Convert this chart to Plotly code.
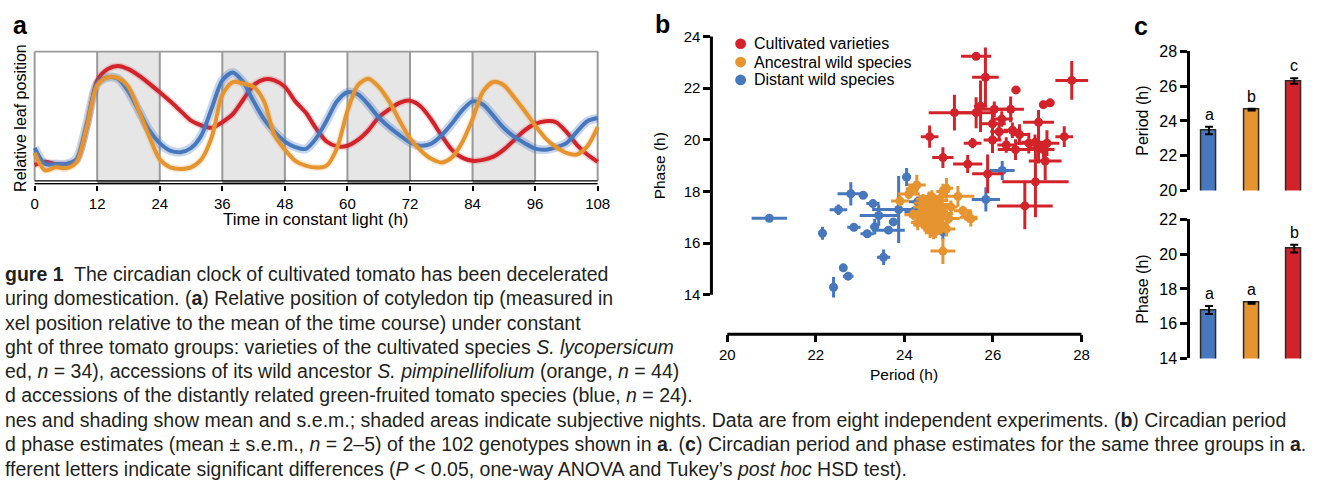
import plotly.graph_objects as go

# ---------------- data ----------------
# Panel a: relative leaf position (arbitrary units) every 2 h
time_h = list(range(0, 109, 2))
cultivated_pos = [17.3, 20.7, 18.3, 18.3, 21.7, 56.7, 105, 116.7, 120, 116.7,
                  110, 101.7, 92.7, 83.3, 73.3, 63.3, 58.3, 56, 61.7, 70,
                  85, 100, 106, 105, 98.3, 83.3, 71.7, 55, 41.7, 36.7,
                  37.3, 43.3, 53.3, 66.7, 75, 81.7, 84, 78.3, 65, 48.3,
                  33.3, 25, 21.7, 22.7, 26, 33.3, 43.3, 53.3, 60, 62.7,
                  61.7, 51.7, 38.3, 28.3, 20.7]
distant_pos = [35, 18.3, 18.3, 18.3, 23.3, 60, 101.7, 108.3, 106.7, 93.3,
               73.3, 53.3, 40, 32.3, 30.7, 35, 48.3, 76.7, 105, 113.3,
               103.3, 83.3, 65, 51.7, 41.7, 36, 34, 45, 63.3, 83.3,
               92.7, 90.7, 80, 66.7, 56.7, 48.3, 40.7, 37.3, 39.3, 47.7,
               60, 74, 83.3, 80, 68.3, 55.7, 46.7, 40, 34.3, 33.3,
               35.7, 40, 51.7, 62.7, 66]
ancestral_pos = [30, 11.7, 15, 14, 20, 56.7, 100, 108.3, 107.3, 98.3,
                 73.3, 46.7, 23.3, 15, 13.3, 15, 23.3, 46.7, 90, 103.3,
                 101.7, 98.3, 83.3, 48.3, 33.3, 21.7, 16.7, 14.7, 16.7, 35,
                 73.3, 100, 106.7, 98.3, 83.3, 63.3, 45, 32.7, 24, 20,
                 25, 40.7, 65, 93.3, 103.3, 100, 87.3, 73.3, 58.3, 45,
                 36, 30, 28.3, 36.7, 56.7]
time_ticks = [0, 12, 24, 36, 48, 60, 72, 84, 96, 108]
night_start = [12, 36, 60, 84]
night_end = [24, 48, 72, 96]

# Panel b: period / phase per genotype (mean, s.e.m.)
red_period = [25.62, 25.83, 27.78, 26.52, 27.29, 27.14, 25.13, 25.62, 25.72, 26.03,
              26.40, 27.03, 25.99, 26.44, 26.14, 24.57, 25.54, 25.99, 26.81, 27.03,
              27.22, 27.61, 26.51, 27.14, 24.87, 25.43, 27.18, 25.88, 26.96, 26.72,
              26.20, 26.60, 26.95, 26.30]
red_phase = [23.23, 22.42, 22.30, 21.93, 21.43, 21.36, 21.05, 21.05, 21.30, 21.18,
             21.18, 20.68, 20.62, 20.37, 20.31, 20.12, 19.87, 19.99, 19.87, 19.68,
             19.87, 20.12, 19.62, 19.62, 19.31, 19.06, 19.18, 18.68, 18.37, 17.44,
             20.80, 20.20, 19.90, 19.80]
red_period_sem = [0.34, 0.30, 0.37, 0.10, 0.10, 0.10, 0.58, 0.40, 0.15, 0.30,
                  0.30, 0.35, 0.30, 0.20, 0.20, 0.20, 0.20, 0.20, 0.30, 0.20,
                  0.28, 0.20, 0.40, 0.25, 0.24, 0.33, 0.37, 0.35, 0.75, 0.63,
                  0.25, 0.20, 0.30, 0.20]
red_phase_sem = [0.10, 1.15, 0.75, 0.10, 0.15, 0.15, 0.69, 0.60, 1.00, 0.30,
                 0.50, 0.47, 0.40, 0.30, 0.30, 0.43, 0.20, 0.50, 0.40, 0.60,
                 0.50, 0.40, 0.40, 0.30, 0.40, 0.35, 0.75, 0.75, 1.37, 0.90,
                 0.30, 0.40, 0.30, 0.30]

orange_period = [24.28, 24.95, 25.21, 23.90, 25.50, 25.32, 24.87, 24.18, 24.10, 24.87, 25.45,
                 24.40, 24.50, 24.55, 24.60, 24.65, 24.70, 24.75, 24.80, 24.45, 24.58,
                 24.62, 24.68, 24.72, 24.35, 24.52, 24.78, 24.85, 24.90, 25.00, 24.42,
                 24.48, 24.56, 24.64, 24.74, 24.30, 24.66, 24.82, 24.95, 25.05, 24.38,
                 24.60, 24.70, 24.20]
orange_phase = [18.25, 18.12, 17.81, 17.63, 16.94, 17.25, 15.69, 18.10, 17.90, 18.00, 17.00,
                17.40, 17.20, 17.60, 17.00, 17.35, 17.10, 16.90, 17.50, 16.70, 16.50,
                17.80, 16.60, 17.25, 17.05, 16.85, 17.45, 16.70, 17.15, 16.95, 17.55,
                17.30, 17.70, 16.75, 17.65, 16.80, 16.40, 17.35, 16.55, 17.40, 17.20,
                17.00, 16.45, 17.10]
orange_period_sem = [0.20, 0.15, 0.37, 0.20, 0.15, 0.20, 0.28, 0.15, 0.25, 0.15, 0.20,
                     0.20, 0.30, 0.15, 0.25, 0.20, 0.35, 0.15, 0.20, 0.25, 0.15,
                     0.30, 0.20, 0.15, 0.25, 0.20, 0.30, 0.15, 0.20, 0.25, 0.20,
                     0.15, 0.30, 0.20, 0.25, 0.15, 0.20, 0.30, 0.20, 0.15, 0.25,
                     0.20, 0.15, 0.20]
orange_phase_sem = [0.40, 0.40, 0.40, 0.20, 0.30, 0.20, 0.50, 0.15, 0.20, 0.30, 0.20,
                    0.30, 0.20, 0.35, 0.25, 0.20, 0.30, 0.25, 0.40, 0.20, 0.30,
                    0.25, 0.35, 0.20, 0.30, 0.25, 0.20, 0.30, 0.25, 0.20, 0.35,
                    0.20, 0.30, 0.25, 0.20, 0.30, 0.25, 0.20, 0.30, 0.25, 0.20,
                    0.30, 0.25, 0.20]

blue_period = [20.95, 22.15, 22.40, 22.62, 22.73, 22.51, 22.79, 23.07, 22.86, 23.16,
               23.42, 23.29, 23.33, 23.53, 23.64, 23.87, 24.05, 23.75, 25.84, 26.21,
               24.87, 24.20, 24.50, 24.30]
blue_phase = [16.96, 16.38, 14.29, 15.04, 14.72, 17.29, 17.91, 17.85, 16.61, 16.36,
              17.07, 17.53, 16.63, 15.45, 16.50, 17.30, 18.56, 16.82, 17.69, 18.81,
              16.44, 17.20, 16.80, 17.60]
blue_period_sem = [0.40, 0.05, 0.05, 0.08, 0.12, 0.20, 0.30, 0.10, 0.15, 0.15,
                   0.43, 0.15, 0.10, 0.15, 0.37, 0.60, 0.10, 0.10, 0.32, 0.28,
                   0.10, 0.20, 0.20, 0.20]
blue_phase_sem = [0.05, 0.25, 0.40, 0.12, 0.12, 0.20, 0.45, 0.12, 0.15, 0.15,
                  0.40, 0.15, 0.30, 0.30, 0.10, 1.30, 0.35, 0.10, 0.47, 0.37,
                  0.30, 0.20, 0.20, 0.20]

legend_names = ["Cultivated varieties", "Ancestral wild species", "Distant wild species"]

# Panel c: group means
groups = ["Distant wild species", "Ancestral wild species", "Cultivated varieties"]
group_period = [23.45, 24.65, 26.3]
group_period_sem = [0.22, 0.05, 0.16]
group_period_letters = ["a", "b", "c"]
group_phase = [16.79, 17.2, 20.32]
group_phase_sem = [0.23, 0.05, 0.23]
group_phase_letters = ["a", "a", "b"]

caption_lines = [
    "<b>gure 1</b>  The circadian clock of cultivated tomato has been decelerated",
    "uring domestication. (<b>a</b>) Relative position of cotyledon tip (measured in",
    "xel position relative to the mean of the time course) under constant",
    "ght of three tomato groups: varieties of the cultivated species <i>S. lycopersicum</i>",
    "ed, <i>n</i> = 34), accessions of its wild ancestor <i>S. pimpinellifolium</i> (orange, <i>n</i> = 44)",
    "d accessions of the distantly related green-fruited tomato species (blue, <i>n</i> = 24).",
    "nes and shading show mean and s.e.m.; shaded areas indicate subjective nights. Data are from eight independent experiments. (<b>b</b>) Circadian period",
    "d phase estimates (mean ± s.e.m., <i>n</i> = 2–5) of the 102 genotypes shown in <b>a</b>. (<b>c</b>) Circadian period and phase estimates for the same three groups in <b>a</b>.",
    "fferent letters indicate significant differences (<i>P</i> &lt; 0.05, one-way ANOVA and Tukey’s <i>post hoc</i> HSD test).",
]

# ---------------- style ----------------
W, H = 1324, 492
RED = "#d2232b"
ORANGE = "#e6942f"
BLUE = "#4778bd"
FONT = "Liberation Sans, Arial, Helvetica, sans-serif"
CAP_FONT = "Liberation Sans, Arial, sans-serif"


def fx(p):
    return p / W


def fy(p):
    return 1 - p / H


fig = go.Figure()

# ---- panel a ----
series_a = [(cultivated_pos, RED, "rgba(210,35,43,0.18)", 7),
            (distant_pos, BLUE, "rgba(71,120,189,0.30)", 9),
            (ancestral_pos, ORANGE, "rgba(230,148,47,0.18)", 7)]
for vals, col, band, bw in series_a:
    fig.add_trace(go.Scatter(x=time_h, y=vals, mode="lines",
                             line=dict(color=band, width=bw, shape="spline", smoothing=0.8),
                             xaxis="x", yaxis="y", showlegend=False, hoverinfo="skip"))
    fig.add_trace(go.Scatter(x=time_h, y=vals, mode="lines",
                             line=dict(color=col, width=4, shape="spline", smoothing=0.8),
                             xaxis="x", yaxis="y", showlegend=False))

shapes = []
for s, e in zip(night_start, night_end):
    shapes.append(dict(type="rect", xref="x", yref="y", x0=s, x1=e, y0=1, y1=135,
                       fillcolor="#e6e6e6", line=dict(width=0), layer="below"))
    shapes.append(dict(type="rect", xref="x", yref="y", x0=s, x1=e, y0=-2, y1=1,
                       fillcolor="#8c8c8c", line=dict(width=0), layer="below"))
for t in time_ticks:
    shapes.append(dict(type="line", xref="x", yref="y", x0=t, x1=t, y0=1, y1=135,
                       line=dict(color="#9a9a9a", width=2), layer="below"))
shapes.append(dict(type="line", xref="x", yref="y", x0=0, x1=108, y0=135, y1=135,
                   line=dict(color="#9a9a9a", width=2), layer="below"))
shapes.append(dict(type="line", xref="x", yref="y", x0=0, x1=108, y0=1, y1=1,
                   line=dict(color="black", width=1.2)))
shapes.append(dict(type="line", xref="x", yref="y", x0=0, x1=108, y0=-2, y1=-2,
                   line=dict(color="black", width=1.5)))

# ---- panel b ----
for px_, ph_, ex_, ey_, col, nm in [
        (blue_period, blue_phase, blue_period_sem, blue_phase_sem, BLUE, legend_names[2]),
        (orange_period, orange_phase, orange_period_sem, orange_phase_sem, ORANGE, legend_names[1]),
        (red_period, red_phase, red_period_sem, red_phase_sem, RED, legend_names[0])]:
    fig.add_trace(go.Scatter(x=px_, y=ph_, mode="markers", name=nm,
                             marker=dict(size=9, color=col),
                             error_x=dict(type="data", array=ex_, thickness=3, width=0, color=col),
                             error_y=dict(type="data", array=ey_, thickness=3, width=0, color=col),
                             xaxis="x2", yaxis="y2", showlegend=False))

shapes.append(dict(type="line", xref="paper", yref="y2", x0=fx(716), x1=fx(716), y0=14, y1=24,
                   line=dict(color="black", width=3)))
shapes.append(dict(type="line", xref="x2", yref="paper", x0=20, x1=28, y0=fy(338), y1=fy(338),
                   line=dict(color="black", width=3)))

# legend (symbol + label) for panel b
legend_rows_y = [37, 56, 74.5]
for (nm, col, yy) in zip(legend_names, [RED, ORANGE, BLUE], legend_rows_y):
    shapes.append(dict(type="circle", xref="paper", yref="paper",
                       x0=fx(740), x1=fx(751), y0=fy(yy + 5.5), y1=fy(yy - 5.5),
                       fillcolor=col, line=dict(width=0)))

# ---- panel c ----
colors_c = [BLUE, ORANGE, RED]
fig.add_trace(go.Bar(x=groups, y=group_period, width=0.35,
                     marker=dict(color=colors_c, line=dict(color="#2a2a2a", width=1.5)),
                     error_y=dict(type="data", array=group_period_sem, thickness=2, width=4, color="black"),
                     xaxis="x3", yaxis="y3", showlegend=False))
fig.add_trace(go.Bar(x=groups, y=group_phase, width=0.35,
                     marker=dict(color=colors_c, line=dict(color="#2a2a2a", width=1.5)),
                     error_y=dict(type="data", array=group_phase_sem, thickness=2, width=4, color="black"),
                     xaxis="x4", yaxis="y4", showlegend=False))

ann = []
for g, v, e, l in zip(groups, group_period, group_period_sem, group_period_letters):
    ann.append(dict(xref="x3", yref="y3", x=g, y=v + e, text=l, showarrow=False,
                    yanchor="bottom", yshift=2, font=dict(size=16, color="black", family=FONT)))
for g, v, e, l in zip(groups, group_phase, group_phase_sem, group_phase_letters):
    ann.append(dict(xref="x4", yref="y4", x=g, y=v + e, text=l, showarrow=False,
                    yanchor="bottom", yshift=2, font=dict(size=16, color="black", family=FONT)))


def txt(x, y, s, size=15, angle=0, xanchor="center", family=FONT, color="black"):
    ann.append(dict(xref="paper", yref="paper", x=fx(x), y=fy(y), text=s, showarrow=False,
                    xanchor=xanchor, yanchor="middle", textangle=angle,
                    font=dict(size=size, color=color, family=family)))


for nm, yy in zip(legend_names, legend_rows_y):
    txt(757, yy, nm, size=16, xanchor="left")

txt(8, 18, "<b>a</b>", size=25, xanchor="left")
txt(657, 17, "<b>b</b>", size=25, xanchor="left")
txt(1141, 19, "<b>c</b>", size=25, xanchor="left")
txt(17, 114, "Relative leaf position", size=16, angle=-90)
txt(316, 219, "Time in constant light (h)", size=17)
txt(663, 163, "Phase (h)", size=15.5, angle=-90)
txt(911, 380, "Period (h)", size=15.5)
txt(1152, 117, "Period (h)", size=16, angle=-90)
txt(1152, 291, "Phase (h)", size=16, angle=-90)

cap_y = [276, 300, 326, 351, 376, 401, 427, 452, 477]
for yy, line in zip(cap_y, caption_lines):
    txt(0, yy, line, size=19.5, xanchor="left", family=CAP_FONT, color="#231f20")

axis_common = dict(showgrid=False, zeroline=False, ticks="outside", tickcolor="black",
                   tickfont=dict(size=15, color="black", family=FONT))

fig.update_layout(
    width=W, height=H, margin=dict(l=0, r=0, t=0, b=0),
    paper_bgcolor="white", plot_bgcolor="rgba(0,0,0,0)",
    font=dict(family=FONT, color="black"),
    showlegend=False, bargap=0,
    xaxis=dict(domain=[fx(30.4), fx(602.6)], range=[-0.3, 108.3], anchor="y",
               tickvals=time_ticks, ticklen=5, tickwidth=1.5, showline=False, **axis_common),
    yaxis=dict(domain=[fy(183), fy(44)], range=[-3, 136], anchor="x", visible=False),
    xaxis2=dict(domain=[fx(716), fx(1100)], range=[19.642, 28.223], anchor="y2",
                tickvals=[20, 22, 24, 26, 28], ticklen=7, tickwidth=3, showline=False, **axis_common),
    yaxis2=dict(domain=[fy(338), fy(20)], range=[12.467, 24.355], anchor="x2",
                tickvals=[14, 16, 18, 20, 22, 24], ticklen=7, tickwidth=3, showline=False, **axis_common),
    xaxis3=dict(domain=[fx(1200), fx(1324)], range=[-0.44, 2.44], anchor="y3", visible=False,
                type="category"),
    yaxis3=dict(domain=[fy(189), fy(45)], range=[20, 28], anchor="x3",
                tickvals=[20, 22, 24, 26, 28], ticklen=7, tickwidth=3, showline=True,
                linecolor="black", linewidth=3,
                showgrid=False, zeroline=False, ticks="outside", tickcolor="black",
                tickfont=dict(size=16, color="black", family=FONT)),
    xaxis4=dict(domain=[fx(1200), fx(1324)], range=[-0.44, 2.44], anchor="y4", visible=False,
                type="category"),
    yaxis4=dict(domain=[fy(363), fy(219)], range=[14, 22], anchor="x4",
                tickvals=[14, 16, 18, 20, 22], ticklen=7, tickwidth=3, showline=True,
                linecolor="black", linewidth=3,
                showgrid=False, zeroline=False, ticks="outside", tickcolor="black",
                tickfont=dict(size=16, color="black", family=FONT)),
    shapes=shapes,
    annotations=ann,
)

fig.write_html(
    "out.html",
    config={"displayModeBar": False},
    post_script=("document.documentElement.style.margin='0';"
                 "document.body.style.margin='0';document.body.style.padding='0';"
                 "document.body.style.overflow='hidden';"
                 "document.documentElement.style.overflow='hidden';"),
)
